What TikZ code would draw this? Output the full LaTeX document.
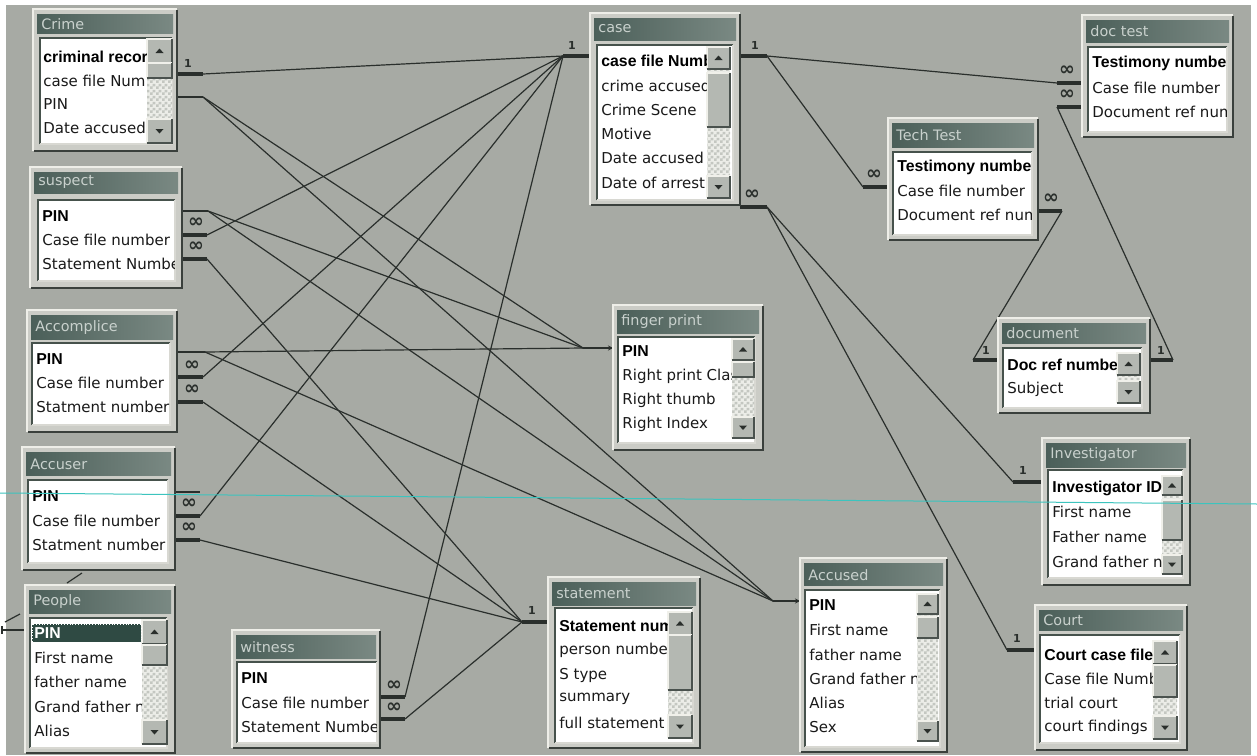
\documentclass[tikz,border=0pt]{standalone}
\usepackage{fontspec}
\setmainfont{DejaVu Sans}
\newfontfamily\fldboldfam{Liberation Sans}
\usetikzlibrary{patterns,arrows.meta}

% fine checker used in the scroll-bar tracks
\pgfdeclarepatternformonly{finechecker}{\pgfpointorigin}{\pgfqpoint{3pt}{3pt}}{\pgfqpoint{3pt}{3pt}}{%
  \pgfpathrectangle{\pgfpointorigin}{\pgfqpoint{1.5pt}{1.5pt}}%
  \pgfpathrectangle{\pgfqpoint{1.5pt}{1.5pt}}{\pgfqpoint{1.5pt}{1.5pt}}%
  \pgfusepath{fill}}

\definecolor{desk}{HTML}{A7AAA4}
\definecolor{winfill}{HTML}{CBCCC6}
\definecolor{winlight}{HTML}{EEEEE8}
\definecolor{winshade}{HTML}{3A403C}
\definecolor{tbl}{HTML}{4B5F59}
\definecolor{tbr}{HTML}{7A8983}
\definecolor{listdark}{HTML}{46524C}
\definecolor{listlight}{HTML}{D8D8D2}
\definecolor{btnfill}{HTML}{B4B8B2}
\definecolor{btnlight}{HTML}{F0F0EA}
\definecolor{btndark}{HTML}{4A524E}
\definecolor{chk}{HTML}{C4C7C1}
\definecolor{sbtrack}{HTML}{ECEDE8}
\definecolor{linec}{HTML}{2A2F2C}
\definecolor{ttltext}{HTML}{C9D1CD}
\definecolor{selc}{HTML}{2F4A43}
\definecolor{scanline}{HTML}{3CC4BE}

% table window: frame and title bar (x1,y1,x2,y2,title bottom)
\newcommand{\tblwin}[5]{%
  \fill[winfill] (#1,#2) rectangle (#3,#4);
  \draw[winlight, line width=0.6pt] (#1,#4) -- (#1,#2) -- (#3,#2);
  \draw[winshade, line width=1.1pt] (#1+1,#4) -- (#3,#4) -- (#3,#2+1);
  \shade[left color=tbl, right color=tbr] (#1+4,#2+5) rectangle (#3-4,#5);
}
% white field list with sunken border
\newcommand{\tbllist}[4]{%
  \fill[white] (#1,#2) rectangle (#3,#4);
  \draw[listdark, line width=1pt] (#1,#4) -- (#1,#2) -- (#3,#2);
  \draw[listlight, line width=0.6pt] (#1,#4) -- (#3,#4) -- (#3,#2);
}
% raised button
\newcommand{\tblbtn}[4]{%
  \fill[btnfill] (#1,#2) rectangle (#3,#4);
  \draw[btnlight, line width=0.6pt] (#1,#4) -- (#1,#2) -- (#3,#2);
  \draw[btndark, line width=0.8pt] (#1,#4) -- (#3,#4) -- (#3,#2);
}
% vertical scroll bar: x1, x2, top, bottom
\newcommand{\tblscroll}[4]{%
  \fill[sbtrack] (#1,#3) rectangle (#2,#4);
  \fill[pattern=finechecker, pattern color=chk] (#1,#3) rectangle (#2,#4);
  \tblbtn{#1}{#3}{#2}{#3+#2-#1-1}
  \tblbtn{#1}{#4-#2+#1+1}{#2}{#4}
  \fill[linec] ({(#1+#2)/2-4},{#3+(#2-#1)/2+1.5}) -- ++(8,0) -- ++(-4,-4.5) -- cycle;
  \fill[linec] ({(#1+#2)/2-4},{#4-(#2-#1)/2-1.5}) -- ++(8,0) -- ++(-4,4.5) -- cycle;
}

\tikzset{
  fld/.style={anchor=west, inner sep=0pt, text=black!90,
    font=\fontsize{7.5pt}{9pt}\selectfont},
  fldb/.style={anchor=west, inner sep=0pt, text=black,
    font=\fldboldfam\bfseries\fontsize{7.9pt}{9pt}\selectfont},
  ttl/.style={anchor=west, inner sep=0pt, text=ttltext,
    font=\fontsize{7.2pt}{9pt}\selectfont},
  rel/.style={draw=linec, line width=0.6pt},
  barstub/.style={draw=linec, line width=1.6pt},
  thinstub/.style={draw=linec, line width=0.6pt},
  onelbl/.style={inner sep=0pt, text=linec,
    font=\bfseries\fontsize{5.5pt}{6pt}\selectfont},
  manylbl/.style={inner sep=0pt, text=linec,
    font=\bfseries\fontsize{9.5pt}{10pt}\selectfont},
}

\begin{document}
\begin{tikzpicture}[x=0.5pt,y=-0.5pt]
\useasboundingbox (0,0) rectangle (1257,755);
\fill[white] (0,0) rectangle (1257,755);
\fill[desk] (6,5) rectangle (1251,755);

% ---------------- relationship lines ----------------
\coordinate (caseL) at (563,56);
\coordinate (caseR) at (767,56);
\coordinate (caseB) at (767,207);
\coordinate (crimeCF) at (203,74);
\coordinate (crimePIN) at (203,97);
\coordinate (suspPIN) at (208,211);
\coordinate (suspCF) at (207,235);
\coordinate (suspST) at (207,259);
\coordinate (accoPIN) at (205,352);
\coordinate (accoCF) at (203,377);
\coordinate (accoST) at (203,402);
\coordinate (acuPIN) at (200,492);
\coordinate (acuCF) at (200,516);
\coordinate (acuST) at (200,540);
\coordinate (witCF) at (405,697);
\coordinate (witST) at (405,719);
\coordinate (stL) at (522,622);
\coordinate (fpIn) at (583,348);
\coordinate (accIn) at (773,601);
\coordinate (dtCF) at (1057,83);
\coordinate (dtDR) at (1057,107);
\coordinate (ttCF) at (863,187);
\coordinate (ttDR) at (1062,211);
\coordinate (docL) at (973,360);
\coordinate (docR) at (1173,360);
\coordinate (invL) at (1013,482);
\coordinate (courtL) at (1007,650);

% case file number -> case
\draw[rel] (crimeCF) -- (caseL);
\draw[rel] (suspCF) -- (caseL);
\draw[rel] (accoCF) -- (caseL);
\draw[rel] (acuCF) -- (caseL);
\draw[rel] (witCF) -- (caseL);

% PIN -> finger print / Accused
\draw[rel] (crimePIN) -- (fpIn);
\draw[rel] (crimePIN) -- (accIn);
\draw[rel] (suspPIN) -- (fpIn);
\draw[rel] (suspPIN) -- (accIn);
\draw[rel] (accoPIN) -- (fpIn);
\draw[rel] (accoPIN) -- (accIn);

% statement number -> statement
\draw[rel] (suspST) -- (stL);
\draw[rel] (accoST) -- (stL);
\draw[rel] (acuST) -- (stL);
\draw[rel] (witST) -- (stL);

% case / test / document links
\draw[rel] (caseR) -- (dtCF);
\draw[rel] (caseR) -- (ttCF);
\draw[rel] (caseB) -- (invL);
\draw[rel] (caseB) -- (courtL);
\draw[rel] (ttDR) -- (docL);
\draw[rel] (dtDR) -- (docR);

% People links running off the left edge
\coordinate (pplA) at (67,583);
\coordinate (pplB) at (82,573);
\draw[rel] (pplA) -- (pplB);
\coordinate (pplC) at (5,622);
\coordinate (pplD) at (20,614);
\draw[rel] (pplC) -- (pplD);
\coordinate (pplE) at (2,630);
\coordinate (pplF) at (29,630);
\draw[thinstub] (pplE) -- (pplF);
\draw[thinstub] (2,626) -- (2,634);

% stubs at the table edges
\coordinate (crimeCF0) at (177,74);   \draw[barstub] (crimeCF0) -- (crimeCF);
\coordinate (crimePIN0) at (177,97);  \draw[thinstub] (crimePIN0) -- (crimePIN);
\coordinate (suspPIN0) at (182,211);  \draw[thinstub] (suspPIN0) -- (suspPIN);
\coordinate (suspCF0) at (182,235);   \draw[barstub] (suspCF0) -- (suspCF);
\coordinate (suspST0) at (182,259);   \draw[barstub] (suspST0) -- (suspST);
\coordinate (accoPIN0) at (177,352);  \draw[thinstub] (accoPIN0) -- (accoPIN);
\coordinate (accoCF0) at (177,377);   \draw[barstub] (accoCF0) -- (accoCF);
\coordinate (accoST0) at (177,402);   \draw[barstub] (accoST0) -- (accoST);
\coordinate (acuPIN0) at (175,492);   \draw[thinstub] (acuPIN0) -- (acuPIN);
\coordinate (acuCF0) at (175,516);    \draw[barstub] (acuCF0) -- (acuCF);
\coordinate (acuST0) at (175,540);    \draw[barstub] (acuST0) -- (acuST);
\coordinate (witCF0) at (380,697);    \draw[barstub] (witCF0) -- (witCF);
\coordinate (witST0) at (380,719);    \draw[barstub] (witST0) -- (witST);
\coordinate (caseL0) at (590,56);     \draw[barstub] (caseL) -- (caseL0);
\coordinate (caseR0) at (740,56);     \draw[barstub] (caseR0) -- (caseR);
\coordinate (caseB0) at (740,207);    \draw[barstub] (caseB0) -- (caseB);
\coordinate (dtCF0) at (1082,83);     \draw[barstub] (dtCF) -- (dtCF0);
\coordinate (dtDR0) at (1082,107);    \draw[barstub] (dtDR) -- (dtDR0);
\coordinate (ttCF0) at (888,187);     \draw[barstub] (ttCF) -- (ttCF0);
\coordinate (ttDR0) at (1038,211);    \draw[barstub] (ttDR0) -- (ttDR);
\coordinate (docL0) at (998,360);     \draw[barstub] (docL) -- (docL0);
\coordinate (docR0) at (1150,360);    \draw[barstub] (docR0) -- (docR);
\coordinate (invL0) at (1042,482);    \draw[barstub] (invL) -- (invL0);
\coordinate (courtL0) at (1035,650);  \draw[barstub] (courtL) -- (courtL0);
\coordinate (stL0) at (548,622);      \draw[barstub] (stL) -- (stL0);
\coordinate (fpEnd) at (613,348);
\draw[thinstub, -{Stealth[length=2.5pt,width=2.5pt]}] (fpIn) -- (fpEnd);
\coordinate (accEnd) at (800,601);
\draw[thinstub, -{Stealth[length=2.5pt,width=2.5pt]}] (accIn) -- (accEnd);

% cardinality labels
\node[onelbl] (l-crimeCF) at (188,63) {1};
\node[manylbl] (m-suspCF) at (196,223) {∞};
\node[manylbl] (m-suspST) at (196,247) {∞};
\node[manylbl] (m-accoCF) at (192,366) {∞};
\node[manylbl] (m-accoST) at (192,390) {∞};
\node[manylbl] (m-acuCF) at (189,504) {∞};
\node[manylbl] (m-acuST) at (189,528) {∞};
\node[manylbl] (m-witCF) at (394,686) {∞};
\node[manylbl] (m-witST) at (394,708) {∞};
\node[onelbl] (l-caseL) at (572,45) {1};
\node[onelbl] (l-caseR) at (755,45) {1};
\node[manylbl] (m-caseB) at (752,195) {∞};
\node[manylbl] (m-dtCF) at (1067,71) {∞};
\node[manylbl] (m-dtDR) at (1067,95) {∞};
\node[manylbl] (m-ttCF) at (874,175) {∞};
\node[manylbl] (m-ttDR) at (1051,199) {∞};
\node[onelbl] (l-docL) at (986,350) {1};
\node[onelbl] (l-docR) at (1161,350) {1};
\node[onelbl] (l-invL) at (1023,470) {1};
\node[onelbl] (l-courtL) at (1017,638) {1};
\node[onelbl] (l-stL) at (532,610) {1};

% ---------------- tables ----------------
% Crime
\tblwin{33}{9}{177}{151}{33}
\node[ttl] (crime) at (41,24) {Crime};
\tbllist{40}{38}{172}{144}
\tblscroll{147}{172}{39}{143}
\tblbtn{147}{63}{172}{78}
\begin{scope}
\clip (41,39) rectangle (146,143);
\node[fldb] (crime-1) at (43,57) {criminal recor};
\node[fld] (crime-2) at (43,81) {case file Num};
\node[fld] (crime-3) at (43,104) {PIN};
\node[fld] (crime-4) at (43,128) {Date accused};
\end{scope}

% suspect
\tblwin{30}{167}{182}{288}{193}
\node[ttl] (suspect) at (38,182) {suspect};
\tbllist{38}{200}{175}{281}
\begin{scope}
\clip (39,201) rectangle (174,280);
\node[fldb] (suspect-1) at (42,216) {PIN};
\node[fld] (suspect-2) at (42,240) {Case file number};
\node[fld] (suspect-3) at (42,264) {Statement Numbe};
\end{scope}

% Accomplice
\tblwin{27}{310}{177}{432}{339}
\node[ttl] (accomplice) at (35,328) {Accomplice};
\tbllist{32}{343}{170}{425}
\begin{scope}
\clip (33,344) rectangle (169,424);
\node[fldb] (accomplice-1) at (36,359) {PIN};
\node[fld] (accomplice-2) at (36,383) {Case file number};
\node[fld] (accomplice-3) at (36,407) {Statment number};
\end{scope}

% Accuser
\tblwin{22}{447}{175}{570}{475}
\node[ttl] (accuser) at (30,464) {Accuser};
\tbllist{28}{480}{168}{563}
\begin{scope}
\clip (29,481) rectangle (167,562);
\node[fldb] (accuser-1) at (32,496) {PIN};
\node[fld] (accuser-2) at (32,521) {Case file number};
\node[fld] (accuser-3) at (32,545) {Statment number};
\end{scope}

% People
\tblwin{25}{585}{175}{753}{613}
\node[ttl] (people) at (33,602) {People};
\tbllist{30}{618}{167}{748}
\tblscroll{142}{167}{620}{744}
\tblbtn{142}{645}{167}{665}
\fill[selc] (32,624) rectangle (141,642);
\draw[white, densely dotted, line width=0.4pt] (32,624) rectangle (141,642);
\begin{scope}
\clip (31,619) rectangle (141,747);
\node[fldb, text=white] (people-1) at (34,633) {PIN};
\node[fld] (people-2) at (34,658) {First name};
\node[fld] (people-3) at (34,682) {father name};
\node[fld] (people-4) at (34,707) {Grand father name};
\node[fld] (people-5) at (34,731) {Alias};
\end{scope}

% witness
\tblwin{232}{630}{380}{748}{658}
\node[ttl] (witness) at (240,647) {witness};
\tbllist{237}{662}{377}{743}
\begin{scope}
\clip (238,663) rectangle (376,742);
\node[fldb] (witness-1) at (241,678) {PIN};
\node[fld] (witness-2) at (241,703) {Case file number};
\node[fld] (witness-3) at (241,727) {Statement Numbe};
\end{scope}

% case
\tblwin{590}{13}{740}{205}{40}
\node[ttl] (case) at (598,29) {case};
\tbllist{597}{45}{733}{200}
\tblscroll{707}{730}{47}{198}
\tblbtn{707}{73}{730}{127}
\begin{scope}
\clip (598,46) rectangle (706,199);
\node[fldb] (case-1) at (601,61) {case file Numb};
\node[fld] (case-2) at (601,86) {crime accused};
\node[fld] (case-3) at (601,110) {Crime Scene};
\node[fld] (case-4) at (601,134) {Motive};
\node[fld] (case-5) at (601,158) {Date accused};
\node[fld] (case-6) at (601,183) {Date of arrest};
\end{scope}

% doc test
\tblwin{1082}{15}{1233}{137}{42}
\node[ttl] (doctest) at (1090,31) {doc test};
\tbllist{1088}{47}{1227}{132}
\begin{scope}
\clip (1089,48) rectangle (1226,131);
\node[fldb] (doctest-1) at (1092,63) {Testimony number};
\node[fld] (doctest-2) at (1092,88) {Case file number};
\node[fld] (doctest-3) at (1092,112) {Document ref number};
\end{scope}

% Tech Test
\tblwin{888}{118}{1038}{240}{147}
\node[ttl] (techtest) at (896,135) {Tech Test};
\tbllist{893}{152}{1032}{235}
\begin{scope}
\clip (894,153) rectangle (1031,234);
\node[fldb] (techtest-1) at (897,167) {Testimony number};
\node[fld] (techtest-2) at (897,191) {Case file number};
\node[fld] (techtest-3) at (897,215) {Document ref number};
\end{scope}

% finger print
\tblwin{613}{305}{763}{450}{333}
\node[ttl] (fingerprint) at (621,322) {finger print};
\tbllist{618}{337}{755}{443}
\tblscroll{732}{754}{339}{438}
\tblbtn{732}{362}{754}{377}
\begin{scope}
\clip (619,338) rectangle (731,442);
\node[fldb] (fingerprint-1) at (622,351) {PIN};
\node[fld] (fingerprint-2) at (622,376) {Right print Class};
\node[fld] (fingerprint-3) at (622,400) {Right thumb};
\node[fld] (fingerprint-4) at (622,424) {Right Index};
\end{scope}

% document
\tblwin{998}{318}{1150}{413}{343}
\node[ttl] (document) at (1006,333) {document};
\tbllist{1003}{348}{1142}{408}
\tblscroll{1117}{1140}{353}{403}
\begin{scope}
\clip (1004,349) rectangle (1116,407);
\node[fldb] (document-1) at (1007,365) {Doc ref number};
\node[fld] (document-2) at (1007,389) {Subject};
\end{scope}

% Investigator
\tblwin{1042}{438}{1190}{585}{467}
\node[ttl] (investigator) at (1050,455) {Investigator};
\tbllist{1048}{470}{1183}{578}
\tblscroll{1162}{1182}{476}{574}
\tblbtn{1162}{500}{1182}{540}
\begin{scope}
\clip (1049,471) rectangle (1161,577);
\node[fldb] (investigator-1) at (1052,488) {Investigator ID};
\node[fld] (investigator-2) at (1052,512) {First name};
\node[fld] (investigator-3) at (1052,537) {Father name};
\node[fld] (investigator-4) at (1052,562) {Grand father name};
\end{scope}

% Court
\tblwin{1035}{605}{1187}{750}{630}
\node[ttl] (court) at (1043,620) {Court};
\tbllist{1040}{635}{1180}{743}
\tblscroll{1153}{1177}{641}{739}
\tblbtn{1153}{665}{1177}{697}
\begin{scope}
\clip (1041,636) rectangle (1152,742);
\node[fldb] (court-1) at (1044,655) {Court case file};
\node[fld] (court-2) at (1044,679) {Case file Number};
\node[fld] (court-3) at (1044,703) {trial court};
\node[fld] (court-4) at (1044,727) {court findings};
\end{scope}

% statement
\tblwin{548}{577}{700}{748}{605}
\node[ttl] (statement) at (556,594) {statement};
\tbllist{555}{608}{693}{743}
\tblscroll{668}{692}{612}{738}
\tblbtn{668}{635}{692}{690}
\begin{scope}
\clip (556,609) rectangle (667,742);
\node[fldb] (statement-1) at (559,626) {Statement number};
\node[fld] (statement-2) at (559,650) {person number};
\node[fld] (statement-3) at (559,675) {S type};
\node[fld] (statement-4) at (559,699) {summary};
\node[fld] (statement-5) at (559,723) {full statement};
\end{scope}

% Accused
\tblwin{800}{558}{947}{752}{585}
\node[ttl] (accused) at (808,575) {Accused};
\tbllist{805}{590}{940}{747}
\tblscroll{917}{938}{594}{741}
\tblbtn{917}{617}{938}{638}
\begin{scope}
\clip (806,591) rectangle (916,746);
\node[fldb] (accused-1) at (809,605) {PIN};
\node[fld] (accused-2) at (809,630) {First name};
\node[fld] (accused-3) at (809,655) {father name};
\node[fld] (accused-4) at (809,679) {Grand father name};
\node[fld] (accused-5) at (809,703) {Alias};
\node[fld] (accused-6) at (809,727) {Sex};
\end{scope}

% scanner streak across the sheet
\draw[scanline, line width=0.5pt] (0,493) -- (1257,504);
\end{tikzpicture}
\end{document}
